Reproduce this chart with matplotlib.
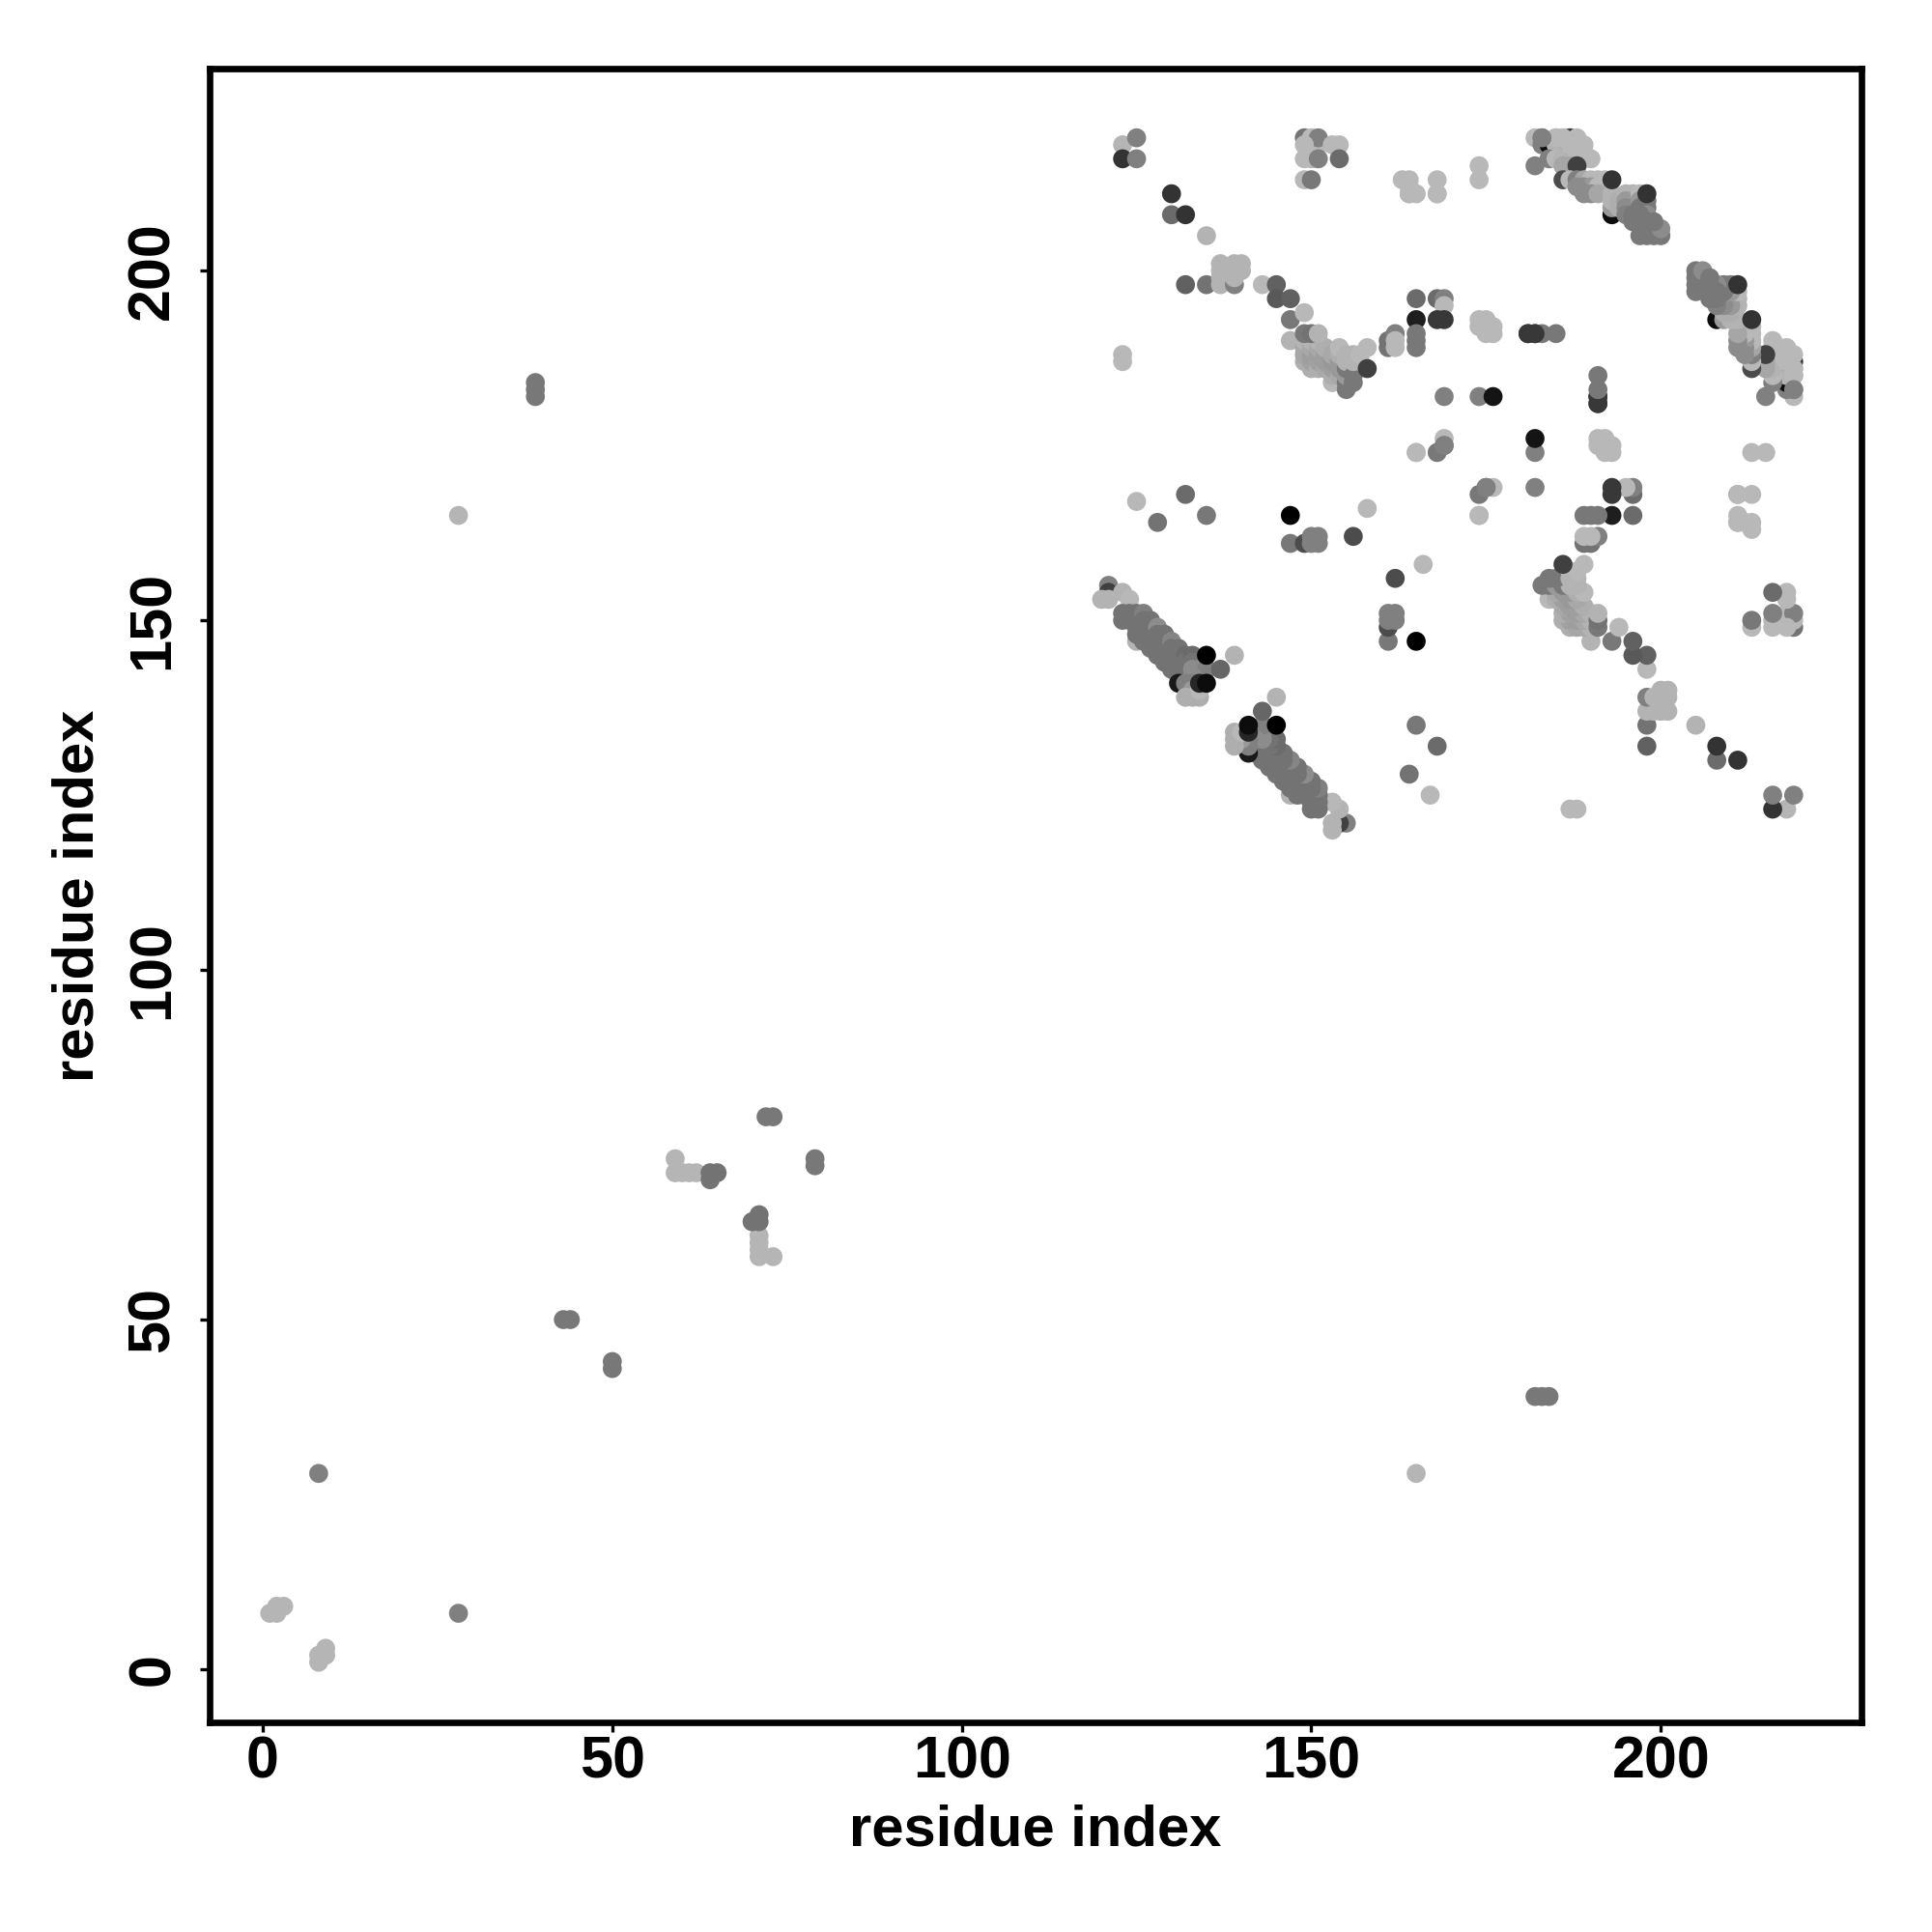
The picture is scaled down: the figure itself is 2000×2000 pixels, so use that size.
import numpy as np
from matplotlib import pyplot as plt

# contacts as residue pairs, mirrored when drawn. level is the gray value of the dot
low_i = [1, 2, 2, 3, 8, 28, 39, 39, 39, 43, 44, 59, 60, 61, 62, 59, 64, 64, 65, 72, 73]
low_j = [8, 8, 9, 9, 28, 165, 182, 183, 184, 50, 50, 71, 71, 71, 71, 73, 70, 71, 71, 79, 79]
low_level = [.71, .71, .71, .71, .5, .71, .47, .47, .47, .47, .47, .71, .71, .71, .71, .71, .45, .45, .45, .47, .47]

sheet_i = [125, 121, 121, 120, 121, 123, 124,
           123, 123, 124, 124, 125, 125, 125, 126, 126, 126, 126,
           127, 127, 127, 127, 128, 128, 128, 128, 129, 129, 129, 129,
           130, 130, 130, 130, 131, 131, 131, 131, 132, 132, 132, 132,
           125, 126, 127, 128, 129, 130, 131,
           133, 133, 133, 134, 135, 137, 131, 133, 132, 133, 133, 132, 133, 134, 134, 134, 135, 135, 139]
sheet_j = [147, 155, 154, 153, 153, 154, 153,
           151, 150, 151, 150, 151, 150, 149, 151, 150, 149, 148,
           150, 149, 148, 147, 149, 148, 147, 146, 148, 147, 146, 145,
           147, 146, 145, 144, 146, 145, 144, 143, 145, 144, 143, 142,
           148, 147, 146, 145, 144, 143, 142,
           145, 144, 143, 143, 143, 143, 141, 142, 141, 141, 140, 139, 139, 139, 140, 141, 141, 145, 145]
sheet_level = [.7, .5, .25, .7, .7, .7, .72,
               .45, .45, .45, .45, .45, .45, .45, .5, .45, .45, .45,
               .45, .45, .45, .45, .55, .45, .45, .45, .45, .45, .45, .45,
               .52, .45, .45, .45, .45, .45, .45, .45, .42, .45, .45, .5,
               .45, .45, .45, .45, .45, .45, .45,
               .42, .45, .55, .55, .5, .4, .1, .55, .5, .5, .6, .68, .68, .68, .72, .15, .05, 0, .7]

mid_i = [150, 151, 123, 125, 123, 125, 130, 130, 132, 135, 132, 135, 137, 137, 137, 137, 139, 139, 139, 139, 140, 140,
         143, 145, 145, 147, 147, 149, 147,
         161, 161, 162, 162, 162, 165, 165, 165, 165, 165, 168, 169, 169, 168, 169,
         149, 150, 151, 149, 153, 154, 149, 150, 151, 154, 149, 150,
         163, 164, 164, 165, 168, 168, 174, 174, 123, 123, 169, 169,
         174, 175, 176, 175, 176, 174, 174, 176, 174, 168, 169, 165, 169,
         125, 128, 132, 135, 147, 147, 149, 150, 151, 150, 151, 156, 158, 164, 168, 164]
mid_j = [218, 218, 218, 219, 216, 216, 211, 208, 208, 205, 198, 198, 198, 199, 200, 201, 198, 199, 200, 201, 200, 201,
         198, 198, 196, 196, 193, 194, 190,
         189, 190, 191, 190, 189, 196, 193, 191, 190, 189, 196, 196, 195, 193, 193,
         219, 219, 219, 218, 218, 218, 216, 216, 216, 216, 213, 213,
         213, 213, 211, 211, 213, 211, 215, 213, 187, 188, 182, 176,
         193, 193, 192, 191, 191, 192, 182, 182, 165, 174, 175, 174, 175,
         167, 164, 168, 165, 165, 161, 161, 162, 162, 161, 161, 162, 166, 212, 211, 211]
mid_level = [.72, .72, .71, .5, .2, .5, .2, .42, .2, .7, .38, .45, .7, .7, .7, .7, .5, .7, .7, .7, .7, .7,
             .72, .38, .35, .38, .47, .72, .7,
             .45, .45, .5, .72, .72, .42, .12, .47, .47, .47, .42, .5, .72, .22, .22,
             .45, .72, .5, .72, .72, .72, .72, .72, .5, .42, .72, .47,
             .72, .72, .72, .72, .72, .72, .72, .72, .72, .72, .5, .72,
             .72, .72, .72, .72, .72, .72, .5, .08, .72, .47, .5, .72, .5,
             .72, .45, .42, .47, 0, .47, .3, .5, .5, .5, .5, .3, .72, .72, .72, .72]

loop_i = [149, 149, 149, 149, 150, 150, 150, 150, 150, 151, 151, 151, 151, 151, 152, 152, 152, 152,
          153, 153, 153, 153, 153, 154, 154, 154, 154, 154, 155, 155, 155, 155, 155, 155,
          156, 156, 156, 156, 157, 157, 158, 158, 149, 150, 151]
loop_j = [187, 188, 189, 190, 186, 187, 188, 189, 190, 186, 187, 188, 189, 190, 186, 187, 188, 189,
          184, 185, 186, 187, 188, 185, 186, 187, 188, 189, 183, 184, 185, 186, 187, 188,
          184, 185, 187, 188, 187, 188, 189, 186, 191, 191, 191]
loop_level = [.68, .65, .66, .7, .68, .63, .62, .66, .7, .68, .63, .62, .66, .7, .66, .62, .62, .68,
              .72, .68, .62, .6, .66, .66, .6, .6, .68, .72, .47, .47, .6, .47, .7, .7,
              .47, .47, .7, .7, .7, .72, .72, .25, .47, .45, .7]

side_i = [181, 182, 183, 185, 182, 183, 183, 182,
          184, 185, 186, 187, 188, 185, 186, 187, 188, 189, 189,
          184, 185, 186, 187, 188, 189, 190, 186, 187, 188, 186, 187, 188, 189, 190, 191, 192,
          189, 190, 191, 192, 188, 189, 190, 191, 186, 187, 185, 183,
          193, 193, 193, 193, 194, 194, 195, 196, 195, 195, 195, 196, 196,
          197, 197, 197, 198, 198, 198, 198, 197, 197, 197, 198, 199, 200, 198, 199, 200, 199,
          191, 191, 193, 198]
side_j = [191, 191, 191, 191, 219, 219, 218, 215,
          218, 219, 219, 219, 219, 218, 218, 218, 218, 218, 217,
          216, 216, 216, 216, 216, 216, 216, 215, 215, 215, 213, 213, 213, 213, 213, 213, 213,
          212, 212, 212, 212, 212, 211, 211, 211, 219, 218, 219, 219,
          208, 209, 210, 211, 210, 209, 211, 211, 210, 209, 208, 208, 207,
          211, 210, 209, 210, 209, 208, 207, 208, 207, 205, 205, 205, 205, 206, 206, 206, 207,
          181, 182, 213, 211]
side_level = [.22, .22, .47, .47, .72, .5, .5, .5,
              .05, .72, .72, .22, .72, .7, .7, .45, .72, .72, .72,
              .5, .72, .7, .7, .72, .72, .72, .65, .65, .25, .3, .72, .5, .65, .72, .72, .72,
              .55, .6, .72, .72, .55, .55, .55, .65, .72, .72, .72, .5,
              .05, .6, .7, .7, .68, .68, .7, .7, .6, .55, .5, .47, .47,
              .72, .6, .47, .47, .47, .55, .47, .47, .47, .47, .47, .47, .47, .47, .47, .55, .47,
              .22, .22, .2, .2]

tick_values = [0, 50, 100, 150, 200]
x_title = 'residue index'
y_title = 'residue index'

plt.rcParams['font.family'] = ['Liberation Sans', 'DejaVu Sans']
plt.rcParams['font.weight'] = 'bold'

res_i = low_i + sheet_i + mid_i + loop_i + side_i
res_j = low_j + sheet_j + mid_j + loop_j + side_j
level = low_level + sheet_level + mid_level + loop_level + side_level

xs = np.array(res_i + res_j)
ys = np.array(res_j + res_i)
cs = np.array(level + level)

fig = plt.figure(figsize=(10, 10), dpi=200)
ax = fig.add_axes([0.1085, 0.1085, 0.855, 0.856])
ax.scatter(xs, ys, c=cs, cmap='gray', vmin=0, vmax=1, s=50, linewidths=0, zorder=3)

ax.set_xlim(-7.6, 228.7)
ax.set_ylim(-7.6, 228.9)
ax.set_xticks(tick_values)
ax.set_yticks(tick_values)
ax.tick_params(length=3.5, width=1.2, labelsize=22)
ax.tick_params(axis='x', pad=1.5)
ax.tick_params(axis='y', pad=7)
for lab in ax.get_yticklabels():
    lab.set_rotation(90)
    lab.set_va('center')
for sp in ax.spines.values():
    sp.set_linewidth(2.4)
ax.set_xlabel(x_title, fontsize=21.5, fontweight='bold', labelpad=5)
ax.set_ylabel(y_title, fontsize=21.5, fontweight='bold', labelpad=8)

fig.savefig('out.png', dpi=200, facecolor='white')
